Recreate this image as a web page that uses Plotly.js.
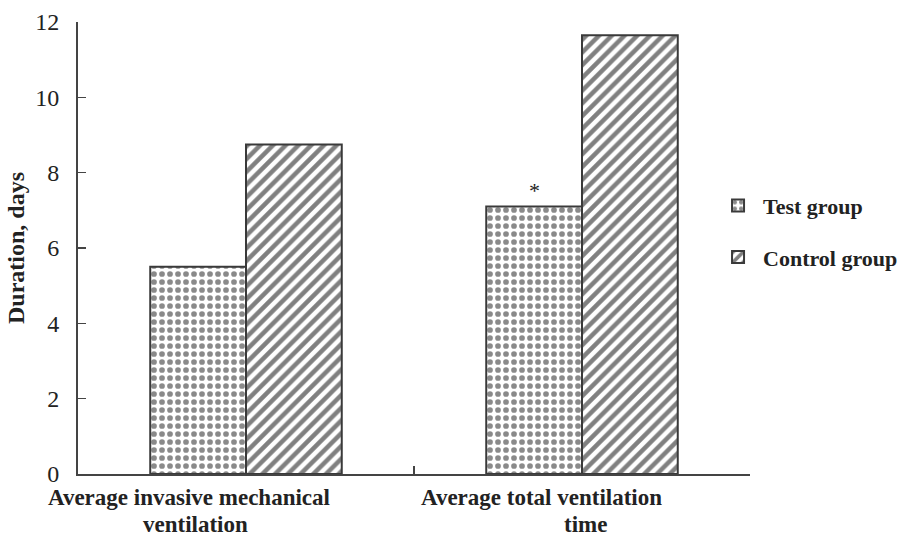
<!DOCTYPE html>
<html><head><meta charset="utf-8">
<script src="https://cdn.plot.ly/plotly-3.0.1.min.js"></script>
<style>body{margin:0;background:#fff}#chart{width:903px;height:541px}</style>
</head><body><div id="chart"></div>
<script>
const categories = ["Average invasive mechanical ventilation", "Average total ventilation time"];
const labelLines = [["Average invasive mechanical", "ventilation"], ["Average total ventilation", "time"]];
const seriesNames = ["Test group", "Control group"];
const testValues = [5.5, 7.1];
const controlValues = [8.75, 11.65];
const yTicks = [0, 2, 4, 6, 8, 10, 12];
const sigMark = "*";

const serif = "'Liberation Serif', 'Times New Roman', serif";
const ink = "#222222";

const traces = [
  {type: "bar", name: seriesNames[0], legendgroup: "g1", x: categories, y: testValues,
   marker: {color: "#ffffff", line: {color: "#3a3a3a", width: 2},
            pattern: {shape: ".", fgcolor: "#8a8a8a", bgcolor: "#ffffff", size: 8, solidity: 0.4}}},
  {type: "bar", name: seriesNames[1], legendgroup: "g2", x: categories, y: controlValues,
   marker: {color: "#ffffff", line: {color: "#3a3a3a", width: 2},
            pattern: {shape: "/", fgcolor: "#808080", bgcolor: "#ffffff", size: 9, solidity: 0.5}}}
];

const annotations = [];
const lineOffsets = [[-0.17, -0.15], [-0.12, 0.01]];
labelLines.forEach((lines, i) => {
  lines.forEach((t, j) => {
    annotations.push({text: "<b>" + t + "</b>", x: i + lineOffsets[i][j], xref: "x",
      y: 0, yref: "y", yanchor: "top", yshift: -10 - j * 27, showarrow: false, borderpad: 0,
      font: {family: serif, size: 23, color: ink}});
  });
});
annotations.push({text: sigMark, x: 1 - 0.142, xref: "x", y: testValues[1], yref: "y",
  yanchor: "bottom", yshift: 2, showarrow: false, font: {family: serif, size: 22, color: ink}});

const layout = {
  width: 903, height: 541,
  margin: {l: 78, r: 153, t: 22, b: 67, autoexpand: false},
  paper_bgcolor: "#ffffff", plot_bgcolor: "#ffffff",
  barmode: "group", bargap: 0.43, bargroupgap: 0,
  showlegend: true,
  legend: {x: 0.945, y: 0.64, xanchor: "left", yanchor: "top",
    font: {family: serif, size: 22, color: ink, weight: "bold"},
    tracegroupgap: 20, itemwidth: 40},
  xaxis: {type: "category", range: [-0.5, 1.5], showticklabels: false,
    tickson: "boundaries", ticks: "inside", ticklen: 8, tickwidth: 1.5, tickcolor: "#444",
    showline: true, linecolor: "#444", linewidth: 2, showgrid: false, zeroline: false},
  yaxis: {range: [0, 12], tickvals: yTicks, ticks: "inside", ticklen: 8, tickwidth: 1.5, tickcolor: "#444",
    showline: true, linecolor: "#444", linewidth: 2, showgrid: false, zeroline: false,
    ticklabelstandoff: 12,
    tickfont: {family: serif, size: 24, color: ink},
    title: {text: "<b>Duration, days</b>", font: {family: serif, size: 24, color: ink}, standoff: 4}},
  annotations: annotations
};

Plotly.newPlot("chart", traces, layout, {displayModeBar: false, staticPlot: true});
</script></body></html>
